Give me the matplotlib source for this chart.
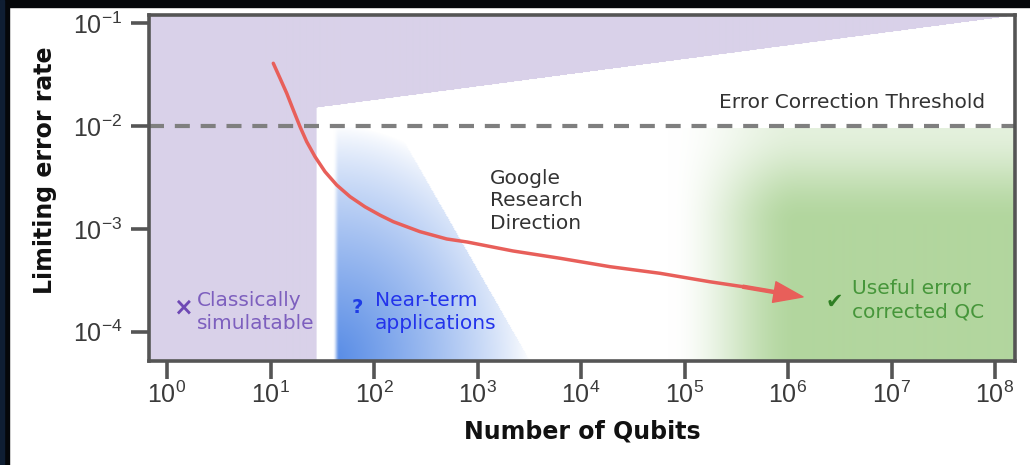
import numpy as np
import matplotlib
matplotlib.use('Agg')
import matplotlib.pyplot as plt
from matplotlib.patches import Rectangle

plt.rcParams['font.family'] = ['DejaVu Sans']
plt.rcParams['mathtext.fontset'] = 'custom'
plt.rcParams['mathtext.rm'] = 'Liberation Sans'

# roadmap curve
qubits = [10.64, 12.36, 14.35, 16.6, 19.28, 22.37, 26.92, 33.63, 43.63, 58.6,
          81.8, 114.3, 153.5, 278, 504, 792, 2200, 6270, 19050, 57900,
          176000, 367000, 716000, 1396000]
error_rate = [0.0408, 0.0292, 0.02084, 0.01435, 0.00986, 0.00705, 0.00504,
              0.0036, 0.00267, 0.00206, 0.00164, 0.00136, 0.001175, 0.00094,
              0.000798, 0.000746, 0.00061, 0.000518, 0.000429, 0.00037,
              0.000306, 0.000274, 0.000245, 0.000218]

# regions
threshold = 1e-2
classical_max = 28
white_top = [(28, 0.0151), (1.56e8, 0.119)]
near_term_min = 40
near_term_top = 160      # right edge of the blue area at the threshold
near_term_max = 3200     # right edge of the blue area at the bottom
ec_start = 7e4
ec_full = 1.3e6

xticks = [10 ** i for i in range(9)]
xlabels = ['$\\mathdefault{10^{%d}}$' % i for i in range(9)]
yticks = [1e-4, 1e-3, 1e-2, 1e-1]
ylabels = ['$\\mathdefault{10^{%d}}$' % i for i in [-4, -3, -2, -1]]
xlim = (0.67, 1.56e8)
ylim = (5.19e-5, 0.119)

purple = np.array([217, 209, 233]) / 255
blue = np.array([78, 133, 228]) / 255
green = np.array([178, 214, 158]) / 255
red = '#e85f5a'


def smooth(t):
    t = np.clip(t, 0, 1)
    return t * t * (3 - 2 * t)


def blend(img, color, a):
    img[:] = img * (1 - a[..., None]) + color[None, None, :] * a[..., None]


# background made in log space
W, H = 868, 346
lx0, lx1 = np.log10(xlim)
ly0, ly1 = np.log10(ylim)
LX, LY = np.meshgrid(np.linspace(lx0, lx1, W), np.linspace(ly0, ly1, H))
img = np.ones((H, W, 3))

lt = np.log10(threshold)
(wx0, wy0), (wx1, wy1) = np.log10(white_top[0]), np.log10(white_top[1])
top_line = wy0 + (LX - wx0) * (wy1 - wy0) / (wx1 - wx0)
pm = ((LX < np.log10(classical_max)) | (LY > top_line)).astype(float)
blend(img, purple, pm)

nmin, ntop, nmax = np.log10([near_term_min, near_term_top, near_term_max])
u = (LX - nmin) / (nmax - nmin)
v = (LY - ly0) / (lt - ly0)
r = np.sqrt(u ** 2 + v ** 2)
diag = ntop + (lt - LY) / (lt - ly0) * (nmax - ntop)
inside = (LX >= nmin) & (LY <= lt) & (LX <= diag)
ba = np.clip(1 - r, 0, 1) ** 0.8 * 0.95 * inside * smooth((LX - nmin) / 0.06)
blend(img, blue, ba)

es, ef = np.log10([ec_start, ec_full])
sx = smooth((LX - es) / (ef - es))
sy = smooth((lt - LY) / 0.95)
ga = sx * (0.35 + 0.65 * sy) * (LY <= lt - 0.02)
blend(img, green, ga)

fig = plt.figure(figsize=(10.3, 4.65), dpi=100)
pos = [149 / 1030, 104 / 465, 866 / 1030, 345.5 / 465]
bg = fig.add_axes(pos, zorder=0)
bg.imshow(img, extent=(0, 1, 0, 1), origin='lower', aspect='auto',
          interpolation='bilinear')
bg.set_xlim(0, 1)
bg.set_ylim(0, 1)
bg.axis('off')

ax = fig.add_axes(pos, zorder=1)
ax.patch.set_alpha(0)
ax.set_xscale('log')
ax.set_yscale('log')

ax.axhline(threshold, color='#7f7f7f', lw=3, dashes=(3.6, 2.6), zorder=2)

ax.plot(qubits[:-2], error_rate[:-2], color=red, lw=2.5, solid_capstyle='round',
        solid_joinstyle='round', zorder=3)
ax.annotate('', xy=(qubits[-1], error_rate[-1]), xytext=(qubits[-3], error_rate[-3]),
            arrowprops=dict(color=red, width=2.2, headwidth=15, headlength=21,
                            shrink=0), zorder=3)

ax.text(8.0e7, 0.0170, 'Error Correction Threshold', ha='right', va='center',
        fontsize=14.5, color='#333333')
ax.text(1320, 0.00187, 'Google\nResearch\nDirection', ha='left', va='center',
        fontsize=14.5, color='#333333', linespacing=1.25)

ax.text(1.43, 1.71e-4, '\u00d7', ha='center', va='center', fontsize=17,
        fontweight='bold', color='#6e48b4')
ax.text(1.95, 1.56e-4, 'Classically\nsimulatable', ha='left', va='center',
        fontsize=14.5, color='#7d5fbe', linespacing=1.3)

ax.text(68.5, 1.71e-4, '?', ha='center', va='center', fontsize=14,
        fontweight='bold', color='#1f3ce6')
ax.text(102, 1.56e-4, 'Near-term\napplications', ha='left', va='center',
        fontsize=14.5, color='#2333eb', linespacing=1.3)

ax.text(2.78e6, 1.95e-4, '\u2714', ha='center', va='center', fontsize=15,
        color='#2f7f24')
ax.text(4.15e6, 2.04e-4, 'Useful error\ncorrected QC', ha='left', va='center',
        fontsize=14.5, color='#46963a', linespacing=1.3)

ax.set_xlim(xlim)
ax.set_ylim(ylim)
ax.xaxis.set_minor_locator(plt.NullLocator())
ax.yaxis.set_minor_locator(plt.NullLocator())
ax.set_xticks(xticks, xlabels, fontfamily='Liberation Sans', fontsize=18, color='#3a3a3a')
ax.set_yticks(yticks, ylabels, fontfamily='Liberation Sans', fontsize=18, color='#3a3a3a')
ax.tick_params(length=13, width=2.6, color='#555555')
ax.tick_params(axis='x', pad=2)
ax.tick_params(axis='y', pad=6)
for s in ax.spines.values():
    s.set_linewidth(2.6)
    s.set_color('#555555')

ax.set_xlabel('Number of Qubits', fontsize=17, fontweight='bold', color='#111111')
ax.set_ylabel('Limiting error rate', fontsize=17, fontweight='bold', color='#111111')
ax.xaxis.set_label_coords(0.5, -0.168)
ax.xaxis.label.set_va('top')
ax.yaxis.set_label_coords(-0.106, 0.553)

# dark frame of the screenshot
fig.add_artist(Rectangle((0, 1 - 7 / 465), 1, 7 / 465, transform=fig.transFigure,
                         color='#05070a', zorder=5))
fig.add_artist(Rectangle((0, 0), 9 / 1030, 1, transform=fig.transFigure,
                         color='#05070a', zorder=5))
fig.add_artist(Rectangle((0, 0), 4 / 1030, 1, transform=fig.transFigure,
                         color='#0f1e33', zorder=6))

fig.savefig('out.png', dpi=100)
